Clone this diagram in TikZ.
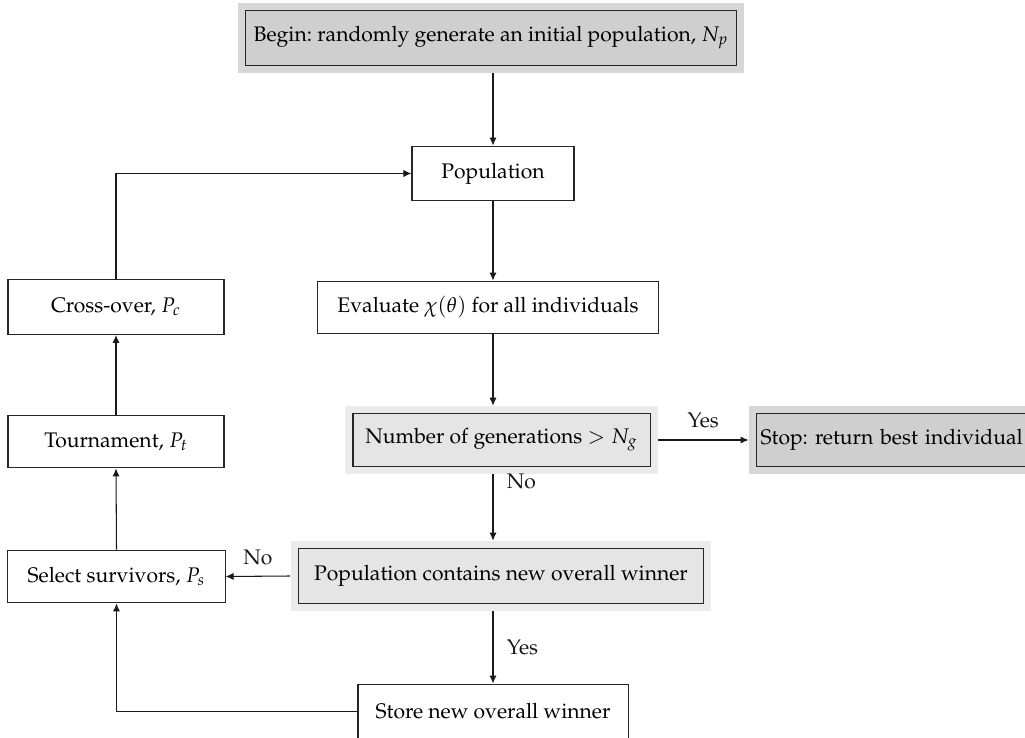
\documentclass[tikz,border=0pt]{standalone}
\usepackage[T1]{fontenc}
\usepackage{mathpazo}
\usetikzlibrary{arrows.meta,positioning,fit,backgrounds}
\frenchspacing

\begin{document}
\begin{tikzpicture}[
            x=0.474pt, y=-0.474pt,
            font=\normalsize,
            blk/.style={draw=black!85, line width=0.5pt, align=center, inner sep=0pt, minimum height=26pt},
            plain/.style={blk, fill=white},
            start/.style={blk, fill=gray!38},
            test/.style={blk, fill=gray!20},
            halo/.style={fill=#1, draw=none, inner sep=3.3pt},
            arrow/.style={-{Latex[length=3.8pt,width=3.4pt]}, line width=0.5pt, black!90}
        ]
            \useasboundingbox (0,0) rectangle (1025,738);
            \coordinate (col) at (493,0);

            % main column
            \node[start, minimum width=233pt] (begin) at (491,38) {Begin: randomly generate an initial population, $N_p$};
            \node[plain, minimum width=76.8pt] (pop) at (493,173.5) {Population};
            \node[plain, minimum width=162pt, minimum height=25pt] (eval) at (488,307.5) {Evaluate $\chi(\theta)$ for all individuals};
            \node[test, minimum width=140.8pt, minimum height=25pt] (gen) at (501.5,440) {Number of generations $>N_g$};
            \node[start, anchor=west, minimum height=25pt, text width=130.8pt, inner xsep=1.9pt, align=left] (stop) at (756,440) {Stop: return best individual};
            \node[test, minimum width=192.4pt] (winner) at (501,576) {Population contains new overall winner};
            \node[plain, minimum width=128pt] (store) at (493,711.5) {Store new overall winner};

            % left column
            \node[plain, minimum width=102.9pt, minimum height=25pt] (select) at (116.5,576.5) {Select survivors, $P_s$};
            \node[plain, minimum width=102.4pt, minimum height=25pt] (tourn) at (116,441.5) {Tournament, $P_t$};
            \node[plain, minimum width=102.4pt] (cross) at (116,307) {Cross-over, $P_c$};

            \begin{scope}[on background layer]
                \node[halo=gray!31, fit=(begin)] (beginH) {};
                \node[halo=gray!31, fit=(stop)] (stopH) {};
                \node[halo=gray!16, fit=(gen)] (genH) {};
                \node[halo=gray!16, fit=(winner)] (winnerH) {};
            \end{scope}

            \draw[arrow] (beginH.south -| col) -- (pop.north -| col);
            \draw[arrow] (pop.south -| col) -- (eval.north -| col);
            \draw[arrow] (eval.south -| col) -- (genH.north -| col);
            \draw[arrow] (genH.east) -- node[above=2pt] {Yes} (stopH.west);
            \draw[arrow] (genH.south -| col) -- node[pos=0.1, right=3pt] {No} (winnerH.north -| col);
            \draw[arrow] (winnerH.west) -- node[above=2pt] {No} (select.east);
            \draw[arrow] (winnerH.south -| col) -- node[right=3pt] {Yes} (store.north -| col);
            \draw[arrow] (store.west) -| (select.south);
            \draw[arrow] (select.north) -- (tourn.south);
            \draw[arrow] (tourn.north) -- (cross.south);
            \draw[arrow] (cross.north) |- (pop.west);
        \end{tikzpicture}
\end{document}
